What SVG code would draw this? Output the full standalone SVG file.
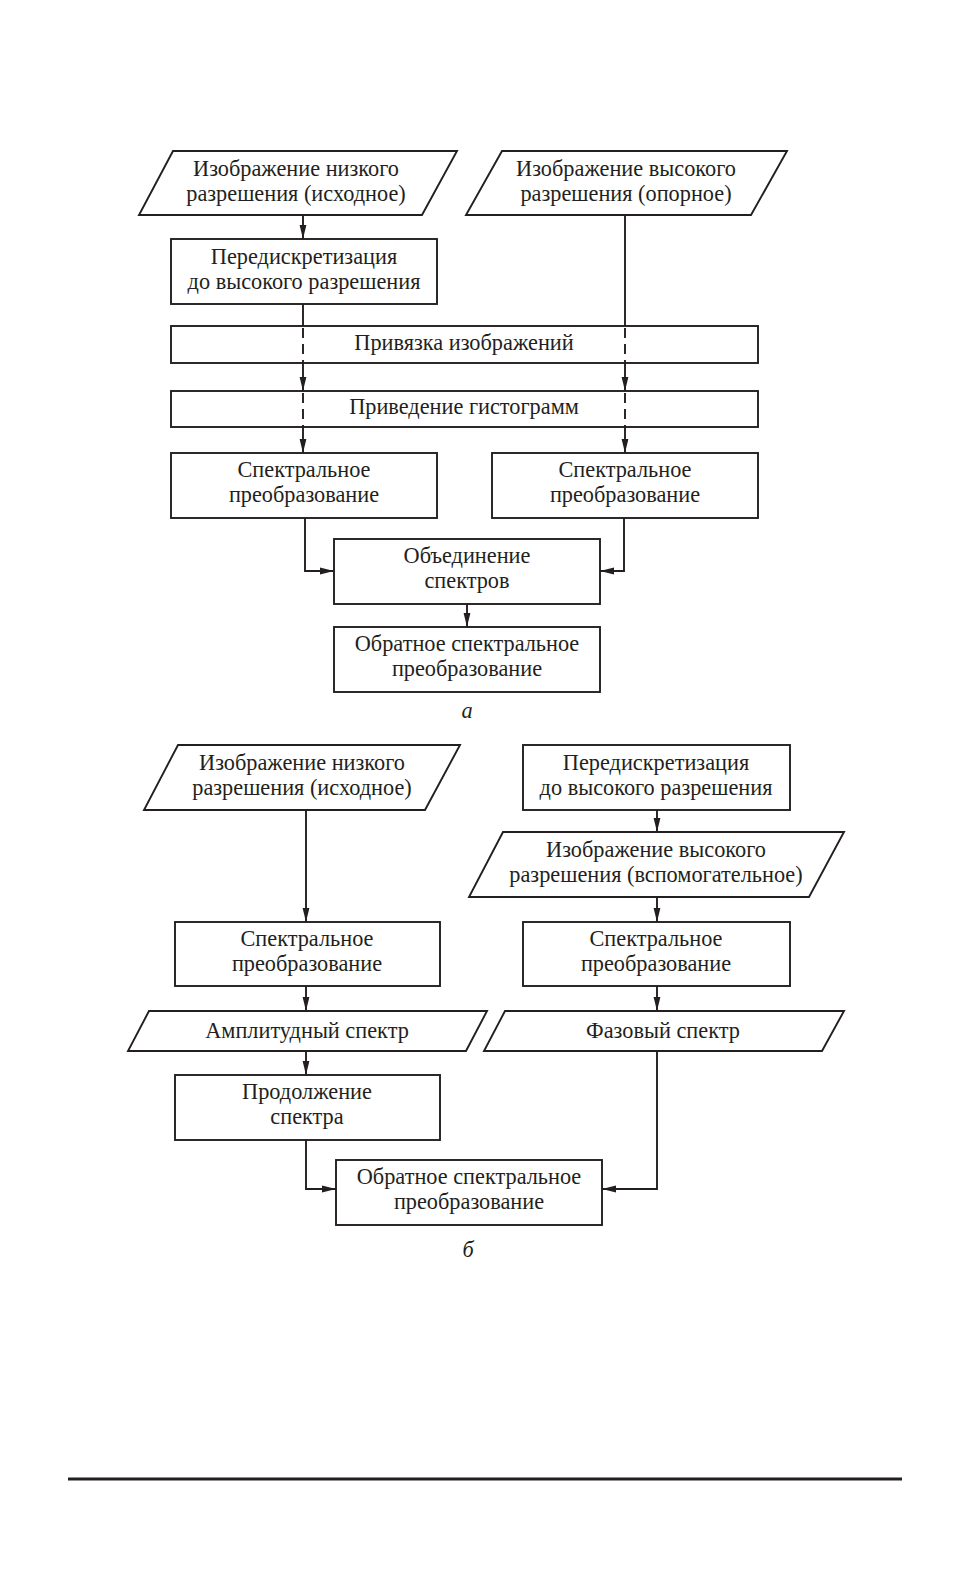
<svg xmlns="http://www.w3.org/2000/svg" width="971" height="1575" viewBox="0 0 971 1575">
<style>
.n{fill:#fff;stroke:#231f20;stroke-width:1.9}
.t{font-family:"Liberation Serif","Times New Roman",serif;font-size:22.3px;fill:#231f20;text-anchor:middle}
.c{fill:none;stroke:#231f20;stroke-width:1.9}
.d{fill:none;stroke:#231f20;stroke-width:1.9;stroke-dasharray:10,6}
</style>
<defs>
<marker id="ar" markerWidth="15" markerHeight="8" refX="14" refY="4" orient="auto" markerUnits="userSpaceOnUse">
<path d="M0,0.6 L14,4 L0,7.4 Z" fill="#231f20"/>
</marker>
</defs>
<rect width="971" height="1575" fill="#fff"/>
<g id="connectors">
<path class="c" d="M303,215 V239" marker-end="url(#ar)"/>
<path class="c" d="M303,304 V326"/>
<path class="d" d="M303,328 V363"/>
<path class="c" d="M303,363 V391" marker-end="url(#ar)"/>
<path class="d" d="M303,393 V427"/>
<path class="c" d="M303,427 V453" marker-end="url(#ar)"/>
<path class="c" d="M625,215 V326"/>
<path class="d" d="M625,328 V363"/>
<path class="c" d="M625,363 V391" marker-end="url(#ar)"/>
<path class="d" d="M625,393 V427"/>
<path class="c" d="M625,427 V453" marker-end="url(#ar)"/>
<path class="c" d="M305,518 V571 H334" marker-end="url(#ar)"/>
<path class="c" d="M624,518 V571 H600" marker-end="url(#ar)"/>
<path class="c" d="M467,604 V627" marker-end="url(#ar)"/>
<path class="c" d="M306,810 V922" marker-end="url(#ar)"/>
<path class="c" d="M657,810 V832" marker-end="url(#ar)"/>
<path class="c" d="M657,897 V922" marker-end="url(#ar)"/>
<path class="c" d="M306,986 V1011" marker-end="url(#ar)"/>
<path class="c" d="M657,986 V1011" marker-end="url(#ar)"/>
<path class="c" d="M306,1051 V1075" marker-end="url(#ar)"/>
<path class="c" d="M306,1140 V1189 H336" marker-end="url(#ar)"/>
<path class="c" d="M657,1051 V1189 H602" marker-end="url(#ar)"/>
</g>
<g id="a_low">
<polygon class="n" points="173,151 457,151 422,215 139,215"/>
<text class="t" x="296" y="176">Изображение низкого</text>
<text class="t" x="296" y="201">разрешения (исходное)</text>
</g>
<g id="a_high">
<polygon class="n" points="502,151 787,151 751,215 466,215"/>
<text class="t" x="626" y="176">Изображение высокого</text>
<text class="t" x="626" y="201">разрешения (опорное)</text>
</g>
<g id="a_resample">
<rect class="n" x="171" y="239" width="266" height="65"/>
<text class="t" x="304" y="264">Передискретизация</text>
<text class="t" x="304" y="289">до высокого разрешения</text>
</g>
<g id="a_register">
<rect class="n" x="171" y="326" width="587" height="37" fill-opacity="0"/>
<text class="t" x="464" y="350">Привязка изображений</text>
</g>
<g id="a_hist">
<rect class="n" x="171" y="391" width="587" height="36" fill-opacity="0"/>
<text class="t" x="464" y="414">Приведение гистограмм</text>
</g>
<g id="a_spec_l">
<rect class="n" x="171" y="453" width="266" height="65"/>
<text class="t" x="304" y="477">Спектральное</text>
<text class="t" x="304" y="502">преобразование</text>
</g>
<g id="a_spec_r">
<rect class="n" x="492" y="453" width="266" height="65"/>
<text class="t" x="625" y="477">Спектральное</text>
<text class="t" x="625" y="502">преобразование</text>
</g>
<g id="a_merge">
<rect class="n" x="334" y="539" width="266" height="65"/>
<text class="t" x="467" y="563">Объединение</text>
<text class="t" x="467" y="588">спектров</text>
</g>
<g id="a_inverse">
<rect class="n" x="334" y="627" width="266" height="65"/>
<text class="t" x="467" y="651">Обратное спектральное</text>
<text class="t" x="467" y="676">преобразование</text>
</g>
<text class="t" x="467" y="718" font-style="italic" font-size="24">а</text>
<g id="b_low">
<polygon class="n" points="178,745 460,745 425,810 144,810"/>
<text class="t" x="302" y="770">Изображение низкого</text>
<text class="t" x="302" y="795">разрешения (исходное)</text>
</g>
<g id="b_resample">
<rect class="n" x="523" y="745" width="267" height="65"/>
<text class="t" x="656" y="770">Передискретизация</text>
<text class="t" x="656" y="795">до высокого разрешения</text>
</g>
<g id="b_aux">
<polygon class="n" points="503,832 844,832 809,897 469,897"/>
<text class="t" x="656" y="857">Изображение высокого</text>
<text class="t" x="656" y="882">разрешения (вспомогательное)</text>
</g>
<g id="b_spec_l">
<rect class="n" x="175" y="922" width="265" height="64"/>
<text class="t" x="307" y="946">Спектральное</text>
<text class="t" x="307" y="971">преобразование</text>
</g>
<g id="b_spec_r">
<rect class="n" x="523" y="922" width="267" height="64"/>
<text class="t" x="656" y="946">Спектральное</text>
<text class="t" x="656" y="971">преобразование</text>
</g>
<g id="b_ampl">
<polygon class="n" points="149,1011 487,1011 466,1051 128,1051"/>
<text class="t" x="307" y="1038">Амплитудный спектр</text>
</g>
<g id="b_phase">
<polygon class="n" points="505,1011 844,1011 822,1051 484,1051"/>
<text class="t" x="663" y="1038">Фазовый спектр</text>
</g>
<g id="b_extend">
<rect class="n" x="175" y="1075" width="265" height="65"/>
<text class="t" x="307" y="1099">Продолжение</text>
<text class="t" x="307" y="1124">спектра</text>
</g>
<g id="b_inverse">
<rect class="n" x="336" y="1160" width="266" height="65"/>
<text class="t" x="469" y="1184">Обратное спектральное</text>
<text class="t" x="469" y="1209">преобразование</text>
</g>
<text class="t" x="468" y="1257" font-style="italic" font-size="24">б</text>
<line x1="68" y1="1479" x2="902" y2="1479" stroke="#231f20" stroke-width="3"/>
</svg>
